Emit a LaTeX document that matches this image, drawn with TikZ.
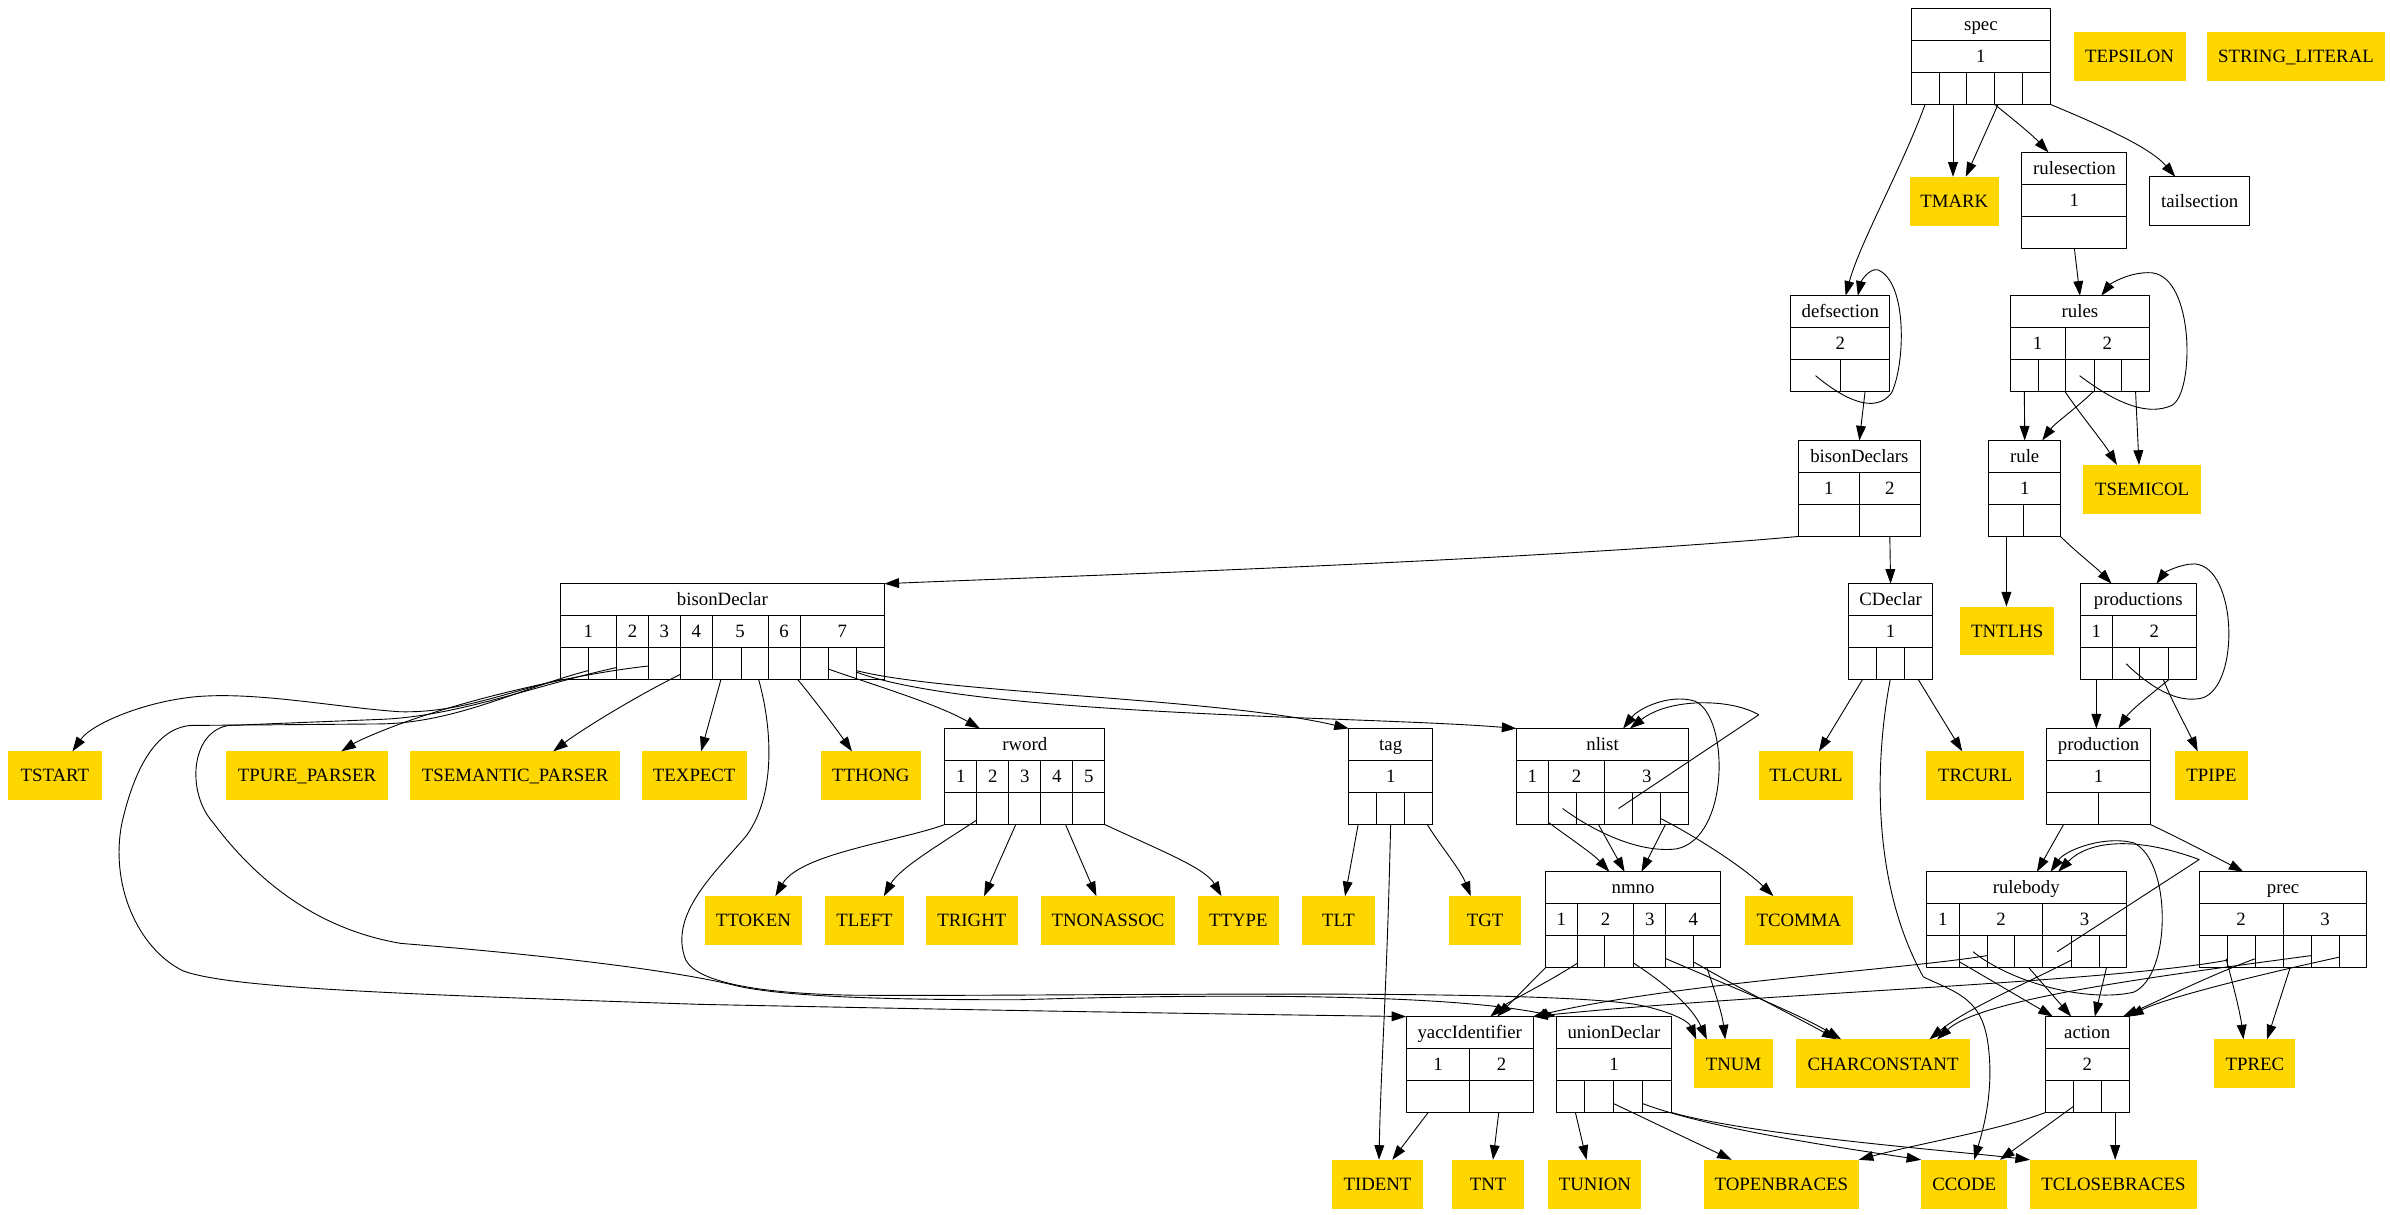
\documentclass[tikz,border=0pt]{standalone}
\usepackage{fontspec}
\setmainfont{Liberation Serif}
\usepackage{tikz}
\usetikzlibrary{arrows.meta,positioning,calc,fit}
\definecolor{tokgold}{HTML}{FFD700}
\tikzset{
  every node/.style={font=\fontsize{9.4}{11}\selectfont, text height=6.2pt, text depth=0pt},
  rec/.style={draw, line width=0.5pt, inner sep=0pt, outer sep=0pt},
  tok/.style={fill=tokgold, inner sep=0pt, outer sep=0pt, minimum height=24.4pt, anchor=north west},
  plainbox/.style={draw, line width=0.5pt, inner sep=0pt, outer sep=0pt, minimum height=24.4pt, anchor=north west},
  edge/.style={line width=0.45pt, -{Triangle[length=7.3pt,width=4.9pt]}},
  cell/.style={line width=0.5pt}
}
% record: name, left, right, top, title, {label/left/right}, {left/right} of lower cells
\newcommand\mkrecord[7]
{
\node[rec, fit={(#2,#4) (#3,#4+63)}] (#1) {};
\node (#1-t) at ({(#2+#3)/2},#4+10.5) {#5};
\draw[cell] (#2,#4+21)--(#3,#4+21) (#2,#4+42)--(#3,#4+42);
\foreach \rl/\ca/\cb in {#6}
{
  \node (#1-r\rl) at ({(\ca+\cb)/2},#4+31.5) {\rl};
  \draw[cell] (\cb,#4+21)--(\cb,#4+42);
}
\foreach \ca/\cb [count=\k] in {#7}
{
  \draw[cell] (\cb,#4+42)--(\cb,#4+63);
  \coordinate (#1-\k) at ({(\ca+\cb)/2},#4+63);
}
}
% terminal: name, left, right, top, text
\newcommand\mktok[5]
{
\node[tok, minimum width={(#3-#2)*0.762pt}] (#1) at (#2,#4) {#5};
}
\begin{document}
\begin{tikzpicture}[x=0.762pt, y=-0.762pt, line join=round]
\useasboundingbox (0,0) rectangle (1568.2,797);
% records
\mkrecord{spec}{1254}{1345.5}{5.5}{spec}{1/1254/1345.5}{1254/1272.3,1272.3/1290.6,1290.6/1308.9,1308.9/1327.2,1327.2/1345.5}
\mkrecord{rulesec}{1326.6}{1395.6}{100}{rulesection}{1/1326.6/1395.6}{1326.6/1395.6}
\mkrecord{defsec}{1175}{1240}{194}{defsection}{2/1175/1240}{1175/1207.5,1207.5/1240}
\mkrecord{rules}{1319}{1410.5}{194}{rules}{1/1319/1355,2/1355/1410.5}{1319/1337.5,1337.5/1355,1355/1374,1374/1392,1392/1410.5}
\mkrecord{bdecls}{1180}{1260}{289}{bisonDeclars}{1/1180/1220,2/1220/1260}{1180/1220,1220/1260}
\mkrecord{rule}{1305}{1352}{289}{rule}{1/1305/1352}{1305/1328,1328/1352}
\mkrecord{bdecl}{367.7}{580.3}{383}{bisonDeclar}{1/367.7/404.5,2/404.5/425.5,3/425.5/446.4,4/446.4/467.3,5/467.3/504,6/504/525,7/525/580.3}{367.7/386,386/404.5,404.5/425.5,425.5/446.4,446.4/467.3,467.3/486.2,486.2/504,504/525,525/543.5,543.5/561.9,561.9/580.3}
\mkrecord{cdecl}{1213}{1268}{383}{CDeclar}{1/1213/1268}{1213/1231,1231/1249.5,1249.5/1268}
\mkrecord{prods}{1365}{1441}{383}{productions}{1/1365/1386,2/1386/1441}{1365/1386,1386/1404,1404/1423,1423/1441}
\mkrecord{rword}{620}{724.8}{478}{rword}{1/620/641,2/641/662,3/662/683,4/683/704,5/704/724.8}{620/641,641/662,662/683,683/704,704/724.8}
\mkrecord{tag}{885}{940}{478}{tag}{1/885/940}{885/903.3,903.3/921.6,921.6/940}
\mkrecord{nlist}{995}{1108}{478}{nlist}{1/995/1016,2/1016/1053,3/1053/1108}{995/1016,1016/1034.6,1034.6/1053,1053/1071,1071/1089.5,1089.5/1108}
\mkrecord{prod}{1343}{1411}{478}{production}{1/1343/1411}{1343/1377,1377/1411}
\mkrecord{nmno}{1014}{1129}{572}{nmno}{1/1014/1035,2/1035/1072,3/1072/1093,4/1093/1129}{1014/1035,1035/1053,1053/1072,1072/1093,1093/1111,1111/1129}
\mkrecord{rbody}{1264}{1395}{572}{rulebody}{1/1264/1285.5,2/1285.5/1340.4,3/1340.4/1395}{1264/1285.5,1285.5/1303.8,1303.8/1322.1,1322.1/1340.4,1340.4/1359,1359/1377.3,1377.3/1395}
\mkrecord{prec}{1443}{1553}{572}{prec}{2/1443/1498,3/1498/1553}{1443/1461.5,1461.5/1479.8,1479.8/1498,1498/1516.5,1516.5/1535,1535/1553}
\mkrecord{yid}{922.7}{1006}{667}{yaccIdentifier}{1/922.7/964.4,2/964.4/1006}{922.7/964.4,964.4/1006}
\mkrecord{udecl}{1021}{1097}{667}{unionDeclar}{1/1021/1097}{1021/1039.6,1039.6/1058.5,1058.5/1077.5,1077.5/1097}
\mkrecord{action}{1342}{1397}{667}{action}{2/1342/1397}{1342/1360.4,1360.4/1378.7,1378.7/1397}
% terminals
\mktok{teps}{1360.6}{1434}{21}{TEPSILON}
\mktok{tstrlit}{1448}{1565}{21}{STRING\_LITERAL}
\mktok{tmark}{1253}{1311.6}{116}{TMARK}
\node[plainbox, minimum width={(1476-1410.6)*0.762pt}] (tailsec) at (1410.6,116) {tailsection};
\mktok{tsemicol}{1367}{1444}{305}{TSEMICOL}
\mktok{tntlhs}{1286}{1348}{398}{TNTLHS}
\mktok{tstart}{5.3}{66.8}{493}{TSTART}
\mktok{tpure}{148}{254.8}{493}{TPURE\_PARSER}
\mktok{tsem}{269}{407}{493}{TSEMANTIC\_PARSER}
\mktok{texpect}{421}{490}{493}{TEXPECT}
\mktok{tthong}{538.8}{604}{493}{TTHONG}
\mktok{tlcurl}{1154}{1216}{493}{TLCURL}
\mktok{trcurl}{1264}{1328}{493}{TRCURL}
\mktok{tpipe}{1427}{1475}{493}{TPIPE}
\mktok{ttoken}{462.7}{526}{588}{TTOKEN}
\mktok{tleft}{541.5}{593}{588}{TLEFT}
\mktok{tright}{607.7}{667.7}{588}{TRIGHT}
\mktok{tnonassoc}{683}{771}{588}{TNONASSOC}
\mktok{ttype}{786}{839}{588}{TTYPE}
\mktok{tlt}{854.5}{902}{588}{TLT}
\mktok{tgt}{951}{998}{588}{TGT}
\mktok{tcomma}{1145}{1215.6}{588}{TCOMMA}
\mktok{tnum}{1111.5}{1163.4}{682}{TNUM}
\mktok{tchar}{1178.5}{1292.6}{682}{CHARCONSTANT}
\mktok{tprec}{1453}{1506}{682}{TPREC}
\mktok{tident}{874}{933.7}{761}{TIDENT}
\mktok{tnt}{952.8}{1000}{761}{TNT}
\mktok{tunion}{1016}{1077}{761}{TUNION}
\mktok{topen}{1118}{1219.6}{761}{TOPENBRACES}
\mktok{tccode}{1260.6}{1317}{761}{CCODE}
\mktok{tclose}{1332}{1441.6}{761}{TCLOSEBRACES}
% spec
\draw[edge] (spec-1) .. controls (1248,110) and (1220,160) .. ($(defsec.north)+(3.5,0)$);
\draw[edge] (spec-2) -- (spec-2 |- tmark.north);
\draw[edge] ($(spec-4)+(-7,0)$) -- ($(tmark.north)+(7.5,0)$);
\draw[edge] ($(spec-3)+(9,0)$) .. controls (1318,76) and (1333,88) .. ($(rulesec.north)+(-17,0)$);
\draw[edge] ($(spec-5)+(9,0)$) .. controls (1385,85) and (1412,98) .. ($(tailsec.north)+(-16,0)$);
\draw[edge] (rulesec-1) -- (rules.north);
% defsection, rules
\draw[edge] ($(defsec-1)+(0,-10.5)$) .. controls (1210,262) and (1230,272) .. (1241,258) .. controls (1250,240) and (1252,185) .. (1232,177) .. controls (1226,176) and (1221,185) .. ($(defsec.north)+(11.5,0)$);
\draw[edge] (defsec-2) -- (bdecls.north);
\draw[edge] (rules-1) -- (rule.north);
\draw[edge] ($(rules-2)+(8.75,0)$) .. controls (1365,272) and (1380,290) .. ($(tsemicol.north)+(-16.5,0)$);
\draw[edge] ($(rules-3)+(0,-10.5)$) .. controls (1380,258) and (1405,275) .. (1425,266) .. controls (1440,258) and (1440,182) .. (1412,179) .. controls (1398,178) and (1385,186) .. ($(rules.north)+(14,0)$);
\draw[edge] ($(rules-4)+(-9.5,0)$) .. controls (1362,268) and (1348,278) .. ($(rule.north)+(11.5,0)$);
\draw[edge] (rules-5) -- ($(tsemicol.north)+(-2,0)$);
% bisonDeclars, rule, CDeclar
\draw[edge] (bdecls.south west) .. controls (1000,368) and (700,378) .. (bdecl.north east);
\draw[edge] (bdecls-2) -- (cdecl.north);
\draw[edge] (rule-1) -- (rule-1 |- tntlhs.north);
\draw[edge] (rule.south east) .. controls (1362,362) and (1375,372) .. ($(prods.north)+(-17.5,0)$);
\draw[edge] (cdecl-1) -- ($(tlcurl.north)+(8.5,0)$);
\draw[edge] (cdecl-2) .. controls (1230,500) and (1228,580) .. (1262,641) .. controls (1285,652) and (1302,655) .. (1305,690) .. controls (1308,720) and (1300,745) .. ($(tccode.north)+(6.5,0)$);
\draw[edge] (cdecl-3) -- ($(trcurl.north)+(-8.5,0)$);
% productions, production
\draw[edge] (prods-1) -- (prods-1 |- prod.north);
\draw[edge] ($(prods-2)+(0,-10.5)$) .. controls (1410,450) and (1428,462) .. (1445,458) .. controls (1470,450) and (1468,372) .. (1440,370) .. controls (1430,370) and (1420,376) .. ($(prods.north)+(12,0)$);
\draw[edge] ($(prods-3)+(6,0)$) .. controls (1425,460) and (1435,478) .. ($(tpipe.north)+(-9,0)$);
\draw[edge] ($(prods-4)+(-9,0)$) .. controls (1412,455) and (1398,466) .. ($(prod.north)+(13,0)$);
\draw[edge] ($(prod-1)+(-6,0)$) -- ($(rbody.north)+(7,0)$);
\draw[edge] (prod.south east) .. controls (1430,550) and (1455,563) .. ($(prec.north)+(-26,0)$);
% bisonDeclar
\draw[edge] (bdecl.south west) .. controls (330,455) and (300,468) .. (262,467) .. controls (220,464) and (170,454) .. (130,457) .. controls (95,460) and (60,475) .. ($(tstart.north)+(11.5,0)$);
\draw[edge] ($(bdecl-2)+(-9.25,-6)$) .. controls (340,452) and (300,474) .. (250,475) -- (125,476) .. controls (102,478) and (88,505) .. (80,540) .. controls (72,580) and (90,622) .. (120,637) .. controls (150,648) and (250,652) .. (459,659) .. controls (700,664) and (850,666) .. (yid.north west);
\draw[edge] ($(bdecl-3)+(-10.5,-8)$) .. controls (350,450) and (300,470) .. (250,472) -- (150,476) .. controls (125,480) and (122,520) .. (140,540) .. controls (170,580) and (210,610) .. (263,619) .. controls (350,626) and (440,636) .. (484,647) .. controls (520,655) and (600,656) .. (668,656) .. controls (800,652) and (950,652) .. (udecl.north west);
\draw[edge] ($(bdecl-4)+(-10.5,-9)$) .. controls (380,442) and (320,456) .. (280,469) .. controls (255,477) and (235,486) .. ($(tpure.north)+(22.6,0)$);
\draw[edge] ($(bdecl-5)+(-10.45,-3.5)$) .. controls (415,458) and (380,480) .. ($(tsem.north)+(25,0)$);
\draw[edge] ($(bdecl-6)+(-3.75,0)$) -- ($(texpect.north)+(4.5,0)$);
\draw[edge] ($(bdecl-7)+(2.7,0)$) .. controls (506,475) and (510,520) .. (490,548) .. controls (470,572) and (438,600) .. (450,630) .. controls (458,645) and (500,652) .. (560,653) .. controls (700,654) and (1000,648) .. (1073,659) .. controls (1095,663) and (1108,670) .. ($(tnum.north)+(-24.5,0)$);
\draw[edge] ($(bdecl-8)+(9,0)$) .. controls (535,460) and (550,480) .. ($(tthong.north)+(-12.4,0)$);
\draw[edge] ($(bdecl-9)+(9.25,-7)$) .. controls (575,450) and (615,462) .. ($(rword.north)+(-29.4,0)$);
\draw[edge] ($(bdecl-10)+(9.2,-6)$) .. controls (620,455) and (800,458) .. (tag.north west);
\draw[edge] ($(bdecl-11)+(-9.2,-5)$) .. controls (640,470) and (900,470) .. (nlist.north west);
% rword, tag
\draw[edge] (rword.south west) .. controls (590,552) and (525,560) .. ($(ttoken.north)+(14.4,0)$);
\draw[edge] ($(rword-2)+(-10.5,-3)$) .. controls (615,555) and (590,570) .. ($(tleft.north)+(12.7,0)$);
\draw[edge] ($(rword-3)+(-6,0)$) -- ($(tright.north)+(8,0)$);
\draw[edge] ($(rword-4)+(5.6,0)$) -- ($(tnonassoc.north)+(-7.6,0)$);
\draw[edge] (rword.south east) .. controls (766,560) and (791,570) .. ($(ttype.north)+(-11,0)$);
\draw[edge] ($(tag-1)+(-3,0)$) -- ($(tlt.north)+(4.3,0)$);
\draw[edge] (tag-2) .. controls (910,650) and (906,700) .. ($(tident.north)+(1,0)$);
\draw[edge] ($(tag-3)+(5.7,0)$) .. controls (945,555) and (958,570) .. ($(tgt.north)+(-9.5,0)$);
% nlist
\draw[edge] ($(nlist-1)+(10.5,-1.4)$) .. controls (1030,550) and (1045,560) .. ($(nmno.north)+(-15.5,0)$);
\draw[edge] ($(nlist-2)+(0,-10.5)$) .. controls (1045,545) and (1075,560) .. (1100,557) .. controls (1135,550) and (1135,470) .. (1112,460) .. controls (1095,455) and (1075,465) .. ($(nlist.north)+(13.5,0)$);
\draw[edge] ($(nlist-3)+(5,0)$) -- ($(nmno.north)+(-5.5,0)$);
\draw[edge] ($(nlist-4)+(0,-10.5)$) -- (1154,469) .. controls (1135,458) and (1095,458) .. ($(nlist.north)+(18,0)$);
\draw[edge] ($(nlist-5)+(9.25,-4)$) .. controls (1115,550) and (1145,570) .. ($(tcomma.north)+(-16.7,0)$);
\draw[edge] ($(nlist-6)+(-6,0)$) -- ($(nmno.north)+(5.5,0)$);
% nmno
\draw[edge] (nmno.south west) -- ($(yid.north)+(18,0)$);
\draw[edge] ($(nmno-2)+(-9,-3)$) .. controls (1015,645) and (990,657) .. ($(yid.north)+(13.5,0)$);
\draw[edge] ($(nmno-3)+(9.5,-3)$) .. controls (1092,645) and (1110,660) .. ($(tnum.north)+(-17.5,0)$);
\draw[edge] ($(nmno-4)+(10.5,-6)$) .. controls (1130,645) and (1180,665) .. ($(tchar.north)+(-27.5,0)$);
\draw[edge] ($(nmno-5)+(9,-4)$) .. controls (1140,648) and (1180,668) .. ($(tchar.north)+(-30.5,0)$);
\draw[edge] (nmno-6) .. controls (1125,650) and (1130,665) .. ($(tnum.north)+(-5.5,0)$);
% yaccIdentifier, unionDeclar, action
\draw[edge] ($(yid-1)+(-6.5,0)$) -- ($(tident.north)+(9.7,0)$);
\draw[edge] ($(yid-2)+(-1.8,0)$) -- ($(tnt.north)+(3.2,0)$);
\draw[edge] ($(udecl-1)+(3.4,0)$) -- ($(tunion.north)+(-5.5,0)$);
\draw[edge] ($(udecl-2)+(9.45,-6)$) -- ($(topen.north)+(-32.5,0)$);
\draw[edge] ($(udecl-3)+(9.5,-6)$) .. controls (1120,740) and (1200,752) .. (tccode.north west);
\draw[edge] (udecl.south east) .. controls (1150,745) and (1280,755) .. (tclose.north west);
\draw[edge] (action.south west) .. controls (1310,742) and (1260,750) .. (topen.north east);
\draw[edge] ($(action-2)+(-9.15,-4)$) -- ($(tccode.north)+(23.5,0)$);
\draw[edge] (action-3) -- (action-3 |- tclose.north);
% rulebody
\draw[edge] ($(rbody-1)+(10.75,-4)$) -- ($(action.north)+(-22.5,0)$);
\draw[edge] ($(rbody-2)+(0,-10.5)$) .. controls (1320,645) and (1370,658) .. (1400,651) .. controls (1425,640) and (1425,565) .. (1400,553) .. controls (1380,548) and (1355,558) .. ($(rbody.north)+(16,0)$);
\draw[edge] ($(rbody-3)+(-9.15,-8)$) .. controls (1250,636) and (1100,645) .. (yid.north east);
\draw[edge] (rbody-4) -- ($(action.north)+(-10.5,0)$);
\draw[edge] ($(rbody-5)+(0,-10.5)$) -- (1443,564) .. controls (1400,548) and (1370,552) .. ($(rbody.north)+(21,0)$);
\draw[edge] ($(rbody-6)+(-9.15,-5)$) .. controls (1330,645) and (1290,662) .. ($(tchar.north)+(30.5,0)$);
\draw[edge] ($(rbody-7)+(-4,0)$) -- ($(action.north)+(5,0)$);
% prec
\draw[edge] ($(prec-1)+(8.35,-6)$) .. controls (1465,645) and (1470,665) .. ($(tprec.north)+(-7.5,0)$);
\draw[edge] ($(prec-2)+(-9.15,-5)$) .. controls (1380,645) and (1150,652) .. (yid.north east);
\draw[edge] ($(prec-3)+(-9.1,-6)$) .. controls (1450,640) and (1420,655) .. ($(action.north east)+(-4,0)$);
\draw[edge] ($(prec-4)+(-4.6,0)$) -- ($(tprec.north)+(8,0)$);
\draw[edge] ($(prec-5)+(-9.25,-8)$) .. controls (1420,640) and (1300,655) .. ($(tchar.north)+(35.5,0)$);
\draw[edge] ($(prec-6)+(-9,-7)$) .. controls (1480,640) and (1420,655) .. (action.north east);
\end{tikzpicture}
\end{document}
